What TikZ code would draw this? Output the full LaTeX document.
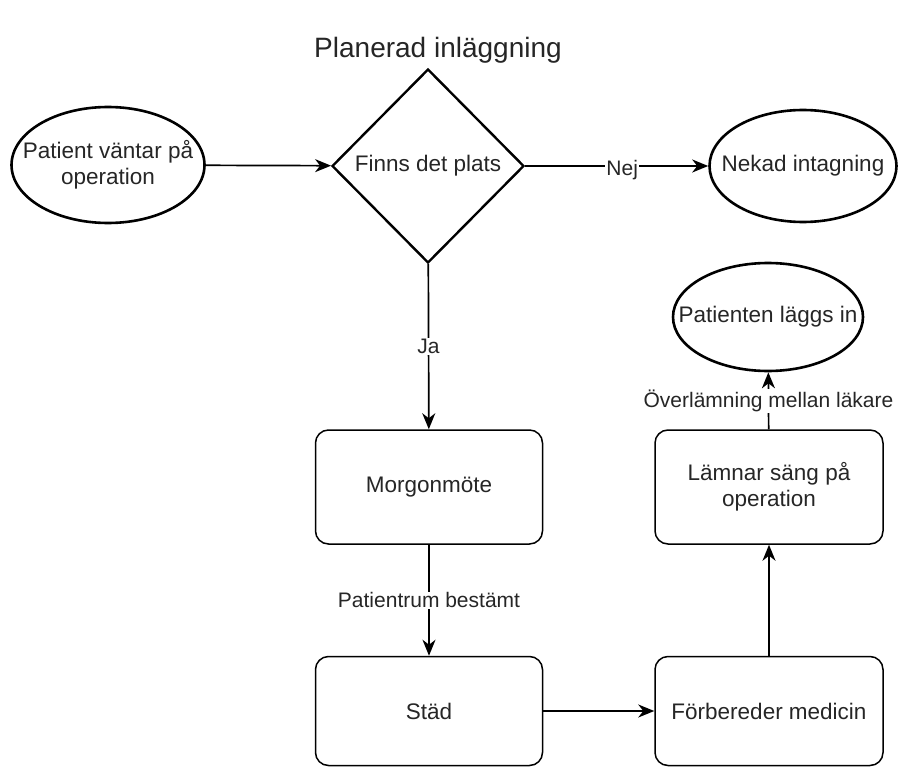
\documentclass[tikz,border=0pt]{standalone}
\usepackage{fontspec}
\setmainfont{Liberation Sans}
\usetikzlibrary{shapes.geometric,arrows.meta}
\begin{document}
\begin{tikzpicture}[x=1pt,y=-1pt,
  base/.style={font=\fontsize{22.5}{25.5}\selectfont, text=black!85},
  oval/.style={ellipse, draw, line width=2.6pt, inner sep=0pt},
  dec/.style={diamond, draw, line width=2.4pt, inner sep=0pt, aspect=1},
  box/.style={rectangle, draw, line width=1.5pt, rounded corners=13pt, inner sep=0pt, base, align=center},
  conn/.style={line width=1.7pt, -{Stealth[length=16pt,width=13pt,inset=5pt]}},
  lbl/.style={fill=white, inner sep=1pt, font=\fontsize{21}{24}\selectfont, text=black!85}
]
\useasboundingbox (0,0) rectangle (901,767);
\fill[white] (0,0) rectangle (901,767);

\node[font=\fontsize{28}{32}\selectfont, text=black!85] (title) at (438,50) {Planerad inläggning};

\node[oval, minimum width=193, minimum height=116,
  label={[base, align=center]center:Patient väntar på\\operation}] (start) at (108,165) {};
\node[dec, minimum width=192, minimum height=194,
  label={[base]center:Finns det plats}] (q) at (428,166) {};
\node[oval, minimum width=187, minimum height=112,
  label={[base]center:Nekad intagning}] (nej) at (803,166) {};
\node[oval, minimum width=190, minimum height=108,
  label={[base]center:Patienten läggs in}] (in) at (768,317) {};

\node[box, minimum width=227, minimum height=114] (morgon) at (429,487) {Morgonmöte};
\node[box, minimum width=227, minimum height=109] (stad) at (429,711) {Städ};
\node[box, minimum width=228, minimum height=109] (forb) at (769,711) {Förbereder medicin};
\node[box, minimum width=228, minimum height=114] (lamn) at (769,487) {Lämnar säng på\\operation};

\draw[conn] (start) -- (q);
\draw[conn] (q) -- node[lbl, pos=0.53, yshift=-4pt] {Nej} (nej);
\draw[conn] (q) -- node[lbl] {Ja} (morgon);
\draw[conn] (morgon) -- node[lbl] {Patientrum bestämt} (stad);
\draw[conn] (stad) -- (forb);
\draw[conn] (forb) -- (lamn);
\draw[conn] (lamn) -- node[lbl] {Överlämning mellan läkare} (in);
\end{tikzpicture}
\end{document}
